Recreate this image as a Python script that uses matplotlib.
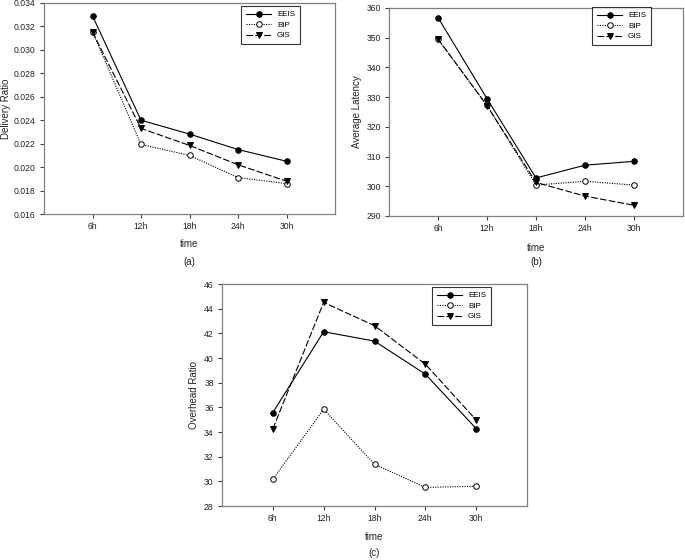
import matplotlib
matplotlib.use("Agg")
import matplotlib.pyplot as plt

plt.rcParams['font.family'] = ['Liberation Sans', 'DejaVu Sans']

times = ["6h", "12h", "18h", "24h", "30h"]
series_names = ["EEIS", "BIP", "GIS"]

delivery_eeis = [0.0329, 0.0240, 0.02282, 0.0215, 0.0205]
delivery_bip = [0.03155, 0.02193, 0.0210, 0.01911, 0.01859]
delivery_gis = [0.03152, 0.02330, 0.02185, 0.02020, 0.01880]

latency_eeis = [356.8, 329.5, 302.8, 307.1, 308.4]
latency_bip = [349.4, 327.3, 300.4, 301.7, 300.4]
latency_gis = [349.6, 327.1, 301.3, 296.7, 293.6]

overhead_eeis = [35.58, 42.13, 41.37, 38.69, 34.28]
overhead_bip = [30.16, 35.85, 31.38, 29.51, 29.60]
overhead_gis = [34.25, 44.51, 42.62, 39.50, 34.98]

W, H = 685, 560
fig = plt.figure(figsize=(W / 100, H / 100), dpi=100)

def px_axes(l, t, r, b):
    return fig.add_axes([l / W, 1 - b / H, (r - l) / W, (b - t) / H])

styles = [
    dict(linestyle='-', marker='o', markerfacecolor='black', color='black'),
    dict(linestyle=(0, (1, 1.2)), marker='o', markerfacecolor='white', color='black'),
    dict(linestyle=(0, (6, 2)), marker='v', markerfacecolor='black', color='black'),
]

TXT = '#222222'

def draw(ax, data, ylim, yticks, yfmt, ylabel, sub, ylabel_px, time_y, sub_y, leg_rt):
    x = list(range(1, len(times) + 1))
    for name, vals, st in zip(series_names, data, styles):
        ax.plot(x, vals, label=name, linewidth=0.8, markersize=4.0,
                markeredgewidth=0.7, **st)
    ax.set_xlim(0, 6)
    ax.set_ylim(*ylim)
    ax.set_xticks(x)
    ax.set_xticklabels(times)
    ax.set_yticks(yticks)
    ax.set_yticklabels([yfmt.format(v) for v in yticks])
    for s in ax.spines.values():
        s.set_color('#808080')
        s.set_linewidth(0.9)
    ax.tick_params(direction='out', length=3, width=0.8, color='#404040',
                   labelsize=6.2, pad=3, labelcolor=TXT)
    bb = ax.get_position()
    cy = bb.y0 + bb.height * 0.5
    fig.text(ylabel_px / W, cy, ylabel, rotation=90, ha='center', va='center',
             fontsize=7, color=TXT)
    cx = bb.x0 + bb.width * 0.5
    fig.text(cx, 1 - time_y / H, "time", ha='center', va='center', fontsize=7, color=TXT)
    fig.text(cx, 1 - sub_y / H, sub, ha='center', va='center', fontsize=7, color=TXT)
    leg = ax.legend(loc='upper right', fontsize=5.8, frameon=True, fancybox=False,
                    handlelength=3.2, handletextpad=0.7, borderpad=0.6,
                    labelspacing=0.35, borderaxespad=0,
                    bbox_to_anchor=(leg_rt[0] / W, 1 - leg_rt[1] / H),
                    bbox_transform=fig.transFigure)
    leg.get_frame().set_edgecolor('black')
    leg.get_frame().set_linewidth(0.8)

ax_a = px_axes(44, 3, 335, 214)
draw(ax_a, [delivery_eeis, delivery_bip, delivery_gis], (0.016, 0.034),
     [0.016 + 0.002 * i for i in range(10)], "{:.3f}", "Delivery Ratio", "(a)",
     6, 244, 262, (300, 6))

ax_b = px_axes(389, 8, 683, 216)
draw(ax_b, [latency_eeis, latency_bip, latency_gis], (290, 360),
     list(range(290, 361, 10)), "{:d}", "Average Latency", "(b)",
     357, 248, 262, (651, 7))

ax_c = px_axes(222, 284, 527, 506)
draw(ax_c, [overhead_eeis, overhead_bip, overhead_gis], (28, 46),
     list(range(28, 47, 2)), "{:d}", "Overhead Ratio", "(c)",
     194, 537, 553, (491, 287))

fig.savefig("out.png", dpi=100)
